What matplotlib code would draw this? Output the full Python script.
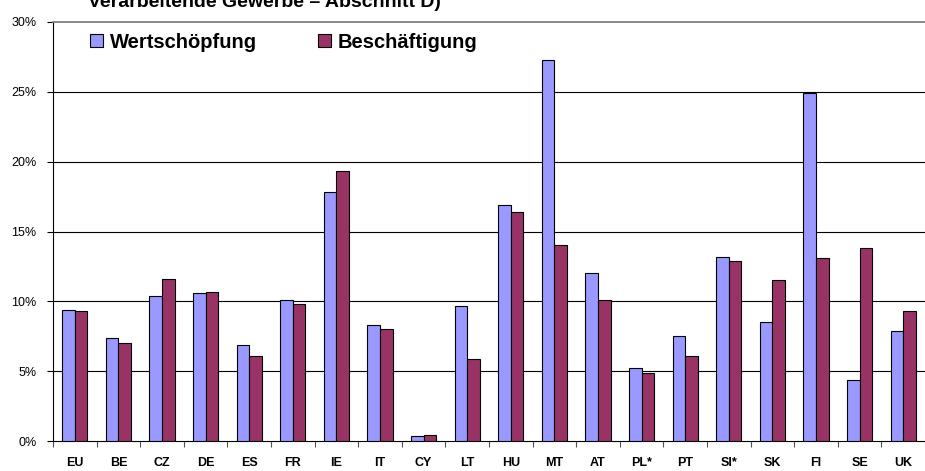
import numpy as np
import matplotlib
matplotlib.use('Agg')
import matplotlib.pyplot as plt

plt.rcParams['font.family'] = ['Liberation Sans', 'DejaVu Sans']

countries = ['EU', 'BE', 'CZ', 'DE', 'ES', 'FR', 'IE', 'IT', 'CY', 'LT',
             'HU', 'MT', 'AT', 'PL*', 'PT', 'SI*', 'SK', 'FI', 'SE', 'UK']
wertschoepfung = [9.4, 7.4, 10.4, 10.6, 6.9, 10.1, 17.8, 8.3, 0.35, 9.7,
                  16.9, 27.3, 12.0, 5.2, 7.5, 13.2, 8.5, 24.9, 4.4, 7.9]
beschaeftigung = [9.3, 7.0, 11.6, 10.7, 6.1, 9.8, 19.3, 8.0, 0.45, 5.9,
                  16.4, 14.0, 10.1, 4.9, 6.1, 12.9, 11.5, 13.1, 13.8, 9.3]
yticks = [0, 5, 10, 15, 20, 25, 30]

fig = plt.figure(figsize=(9.25, 4.71), dpi=100)
ax = fig.add_axes([53/925, 30/471, 872/925, 419/471])

x = np.arange(len(countries))
w = 0.29
b1 = ax.bar(x - w/2, wertschoepfung, w, color='#9999FF', edgecolor='black',
            linewidth=0.8, label='Wertschöpfung', zorder=3)
b2 = ax.bar(x + w/2, beschaeftigung, w, color='#993366', edgecolor='black',
            linewidth=0.8, label='Beschäftigung', zorder=3)

ax.set_xlim(-0.5, len(countries) - 0.5)
ax.set_ylim(0, 30)
ax.set_yticks(yticks)
ax.set_yticklabels(['%d%%' % v for v in yticks], fontsize=9)
ax.set_xticks(x)
ax.set_xticklabels(countries, fontsize=9, fontweight='bold')
ax.set_xticks(np.arange(len(countries) + 1) - 0.5, minor=True)
ax.tick_params(axis='x', which='major', length=0, pad=11.5)
ax.tick_params(axis='x', which='minor', length=4, width=0.8, color='#555555')
ax.tick_params(axis='y', length=4, width=0.8, pad=8)

# horizontal grid lines
for v in yticks[1:-1]:
    ax.axhline(v, color='black', linewidth=0.8, zorder=1)

ax.spines['right'].set_visible(False)
ax.spines['top'].set_color('#808080')
ax.spines['top'].set_linewidth(1.3)
ax.spines['left'].set_linewidth(0.8)
ax.spines['bottom'].set_linewidth(0.8)

ax.legend(loc='center left', bbox_to_anchor=(0.033, 0.952), ncol=2,
          frameon=False, prop={'size': 14.5, 'weight': 'bold'},
          handlelength=0.65, handleheight=0.65, handletextpad=0.35,
          columnspacing=3.0, borderaxespad=0)

# title is clipped at the top edge like in the original
fig.text(88/925, 1 - 7/471, 'Verarbeitende Gewerbe \u2013 Abschnitt D)',
         fontsize=14, fontweight='bold', va='baseline', ha='left')

fig.savefig('out.png', dpi=100)
